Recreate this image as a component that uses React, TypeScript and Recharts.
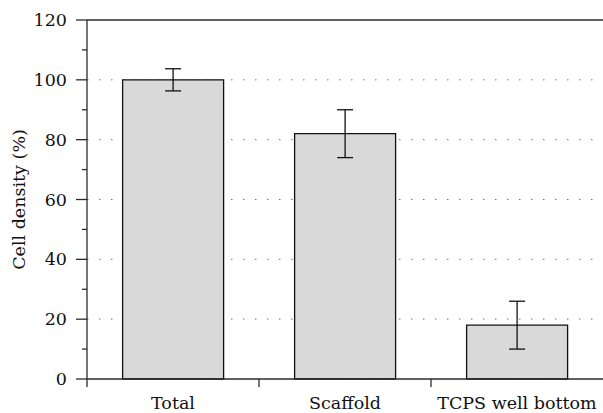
import React from 'react';
import { BarChart, Bar, XAxis, YAxis, CartesianGrid, ErrorBar, ReferenceLine } from 'recharts';

// categories, means and +/- error
const categories = ['Total', 'Scaffold', 'TCPS well bottom'];
const density = [100, 82, 18];
const errors = [3.7, 8, 8];
const yTicks = [0, 10, 20, 30, 40, 50, 60, 70, 80, 90, 100, 110, 120];
const gridValues = [20, 40, 60, 80, 100];

const data = categories.map((name, i) => ({ name, value: density[i], err: errors[i] }));

const FONT = 'DejaVu Serif';
const FS = 17.5;
const AXIS = '#2b2b2b';
const BAND = 516 / categories.length;

const YTick = (props: any) => {
  const { x, y, payload } = props;
  const major = payload.value % 20 === 0;
  return (
    <g>
      <line x1={x - (major ? 11 : 5)} x2={x} y1={y} y2={y} stroke={AXIS} strokeWidth={1.3} />
      {major && (
        <text x={x - 20} y={y} dy={6} textAnchor="end" fill="#111" fontFamily={FONT} fontSize={FS}>
          {payload.value}
        </text>
      )}
    </g>
  );
};

const XTick = (props: any) => {
  const { x, y, payload } = props;
  return (
    <g>
      <line x1={x - BAND / 2} x2={x - BAND / 2} y1={y} y2={y + 8} stroke={AXIS} strokeWidth={1.3} />
      <text x={x} y={y + 30} textAnchor="middle" fill="#111" fontFamily={FONT} fontSize={FS}>
        {payload.value}
      </text>
    </g>
  );
};

export default function App() {
  return (
    <div style={{ position: 'absolute', left: 0, top: 0, width: 603, height: 413, background: '#fff' }}>
      <BarChart
        width={603}
        height={413}
        data={data}
        margin={{ top: 20, right: 0, bottom: 4, left: 27 }}
        barCategoryGap="20.7%"
      >
        <CartesianGrid
          vertical={false}
          horizontalValues={gridValues}
          stroke="#777"
          strokeDasharray="1.5 10.5"
        />
        <XAxis
          dataKey="name"
          height={30}
          tickSize={0}
          tickMargin={0}
          tickLine={false}
          tick={<XTick />}
          axisLine={{ stroke: AXIS, strokeWidth: 1.3 }}
        />
        <YAxis
          width={60}
          domain={[0, 120]}
          ticks={yTicks}
          interval={0}
          tickSize={0}
          tickMargin={0}
          tickLine={false}
          tick={<YTick />}
          axisLine={{ stroke: AXIS, strokeWidth: 1.3 }}
          label={{
            value: 'Cell density (%)',
            angle: -90,
            position: 'insideLeft',
            dx: -13,
            fontFamily: FONT,
            fontSize: FS,
            fill: '#111',
            style: { textAnchor: 'middle' },
          }}
        />
        <ReferenceLine y={120} stroke={AXIS} strokeWidth={1.3} />
        <Bar dataKey="value" fill="#d9d9d9" stroke="#111" strokeWidth={1.3} isAnimationActive={false}>
          <ErrorBar dataKey="err" width={8} stroke="#111" strokeWidth={1.3} isAnimationActive={false} />
        </Bar>
      </BarChart>
    </div>
  );
}
